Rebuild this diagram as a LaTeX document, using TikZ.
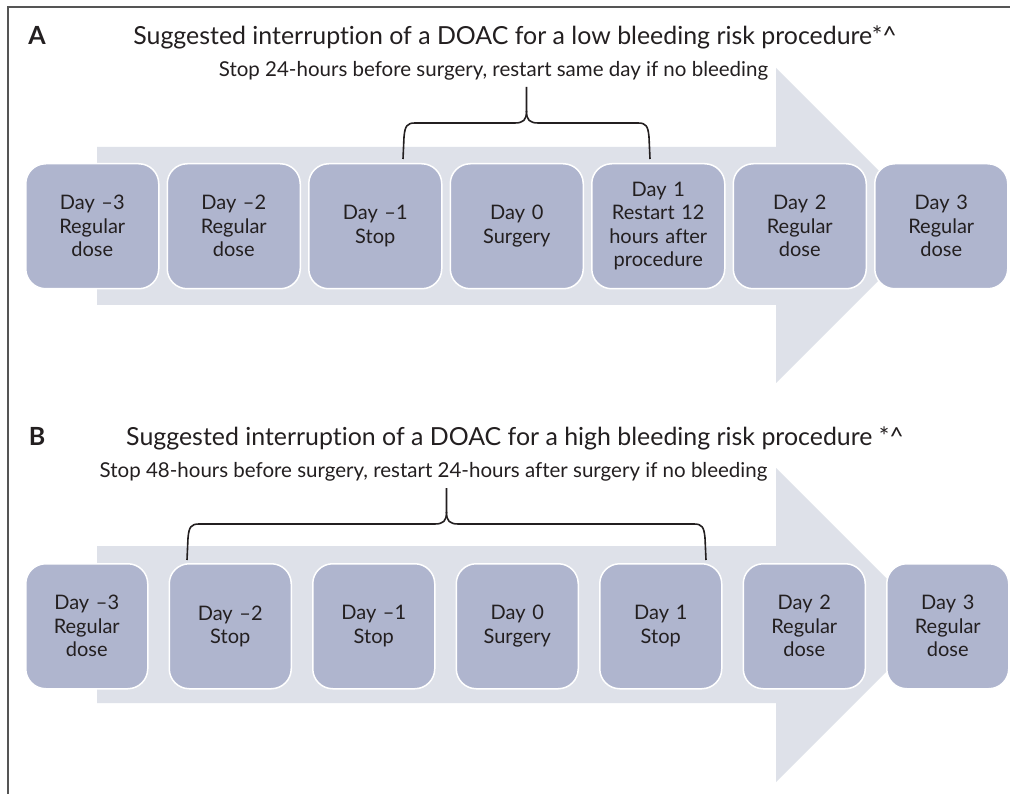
\documentclass[tikz,border=0pt]{standalone}
\usepackage{fontspec}
\setmainfont{Lato}[Ligatures={CommonOff,ContextualOff}]
\usetikzlibrary{calc}
\definecolor{boxfill}{RGB}{175,181,206}
\definecolor{arrowfill}{RGB}{222,225,233}
\definecolor{inkcol}{RGB}{35,31,32}
\definecolor{framecol}{RGB}{85,85,85}
\tikzset{
  daybox/.style={draw=white, line width=1.5pt, fill=boxfill, rounded corners=20pt,
    minimum height=125pt, inner sep=2pt, align=center, text=inkcol,
    font=\fontsize{20}{23.5}\selectfont, anchor=north west},
  dayboxA/.style={daybox, minimum width=133pt, text width=129pt},
  dayboxB/.style={daybox, minimum width=122pt, text width=118pt},
  titletext/.style={anchor=base, text=inkcol, font=\fontsize{24.9}{28}\selectfont, inner sep=0pt},
  subtext/.style={anchor=base, text=inkcol, font=\fontsize{20.5}{23}\selectfont, inner sep=0pt},
  panellabel/.style={anchor=base, text=inkcol, font=\fontsize{25}{28}\selectfont\bfseries, inner sep=0pt},
  bracepen/.style={draw=inkcol, line width=1.6pt},
  bigarrow/.style={fill=arrowfill},
  framepen/.style={draw=framecol, line width=1.6pt}
}
\newcommand{\mybracedraw}[5]{%
  \pgfmathsetmacro\xm{(#1+#2)/2}
  \draw[bracepen] (#1,#4) -- (#1+1,#3+14) .. controls (#1+2,#3+3) and (#1+4,#3) .. (#1+12,#3) -- (\xm-12,#3) .. controls (\xm-3,#3) and (\xm,#3-3) .. (\xm,#3-12) -- (\xm,#5);
  \draw[bracepen] (#2,#4) -- (#2-1,#3+14) .. controls (#2-2,#3+3) and (#2-4,#3) .. (#2-12,#3) -- (\xm+12,#3) .. controls (\xm+3,#3) and (\xm,#3-3) .. (\xm,#3-12);
}
\begin{document}
\begin{tikzpicture}[x=1pt, y=-1pt]
\useasboundingbox (0,0) rectangle (1010,794);
\fill[white] (0,0) rectangle (1010,794);
% frame
\draw[framepen] (1010,7) -- (8,7) -- (8,794);

% ---------------- Panel A ----------------
\node[panellabel] (labA) at (37,45) {A};
\node[titletext] (titA) at (515,45) {Suggested interruption of a DOAC for a low bleeding risk procedure*\^{}};
\node[subtext] (subA) at (493.5,77) {Stop 24-hours before surgery, restart same day if no bleeding};
\fill[bigarrow] (97,147) -- (776,147) -- (776,68) -- (933.5,225.5) -- (776,383) -- (776,305) -- (97,305) -- cycle;
\node[dayboxA] (a1) at (25,163)    {Day –3\\Regular\\dose};
\node[dayboxA] (a2) at (166.5,163) {Day –2\\Regular\\dose};
\node[dayboxA] (a3) at (308,163)   {Day –1\\Stop};
\node[dayboxA] (a4) at (449.5,163) {Day 0\\Surgery};
\node[dayboxA] (a5) at (591,163)   {Day 1\\Restart 12\\hours after\\procedure};
\node[dayboxA] (a6) at (732.5,163) {Day 2\\Regular\\dose};
\node[dayboxA] (a7) at (874,163)   {Day 3\\Regular\\dose};
\mybracedraw{403}{650}{123}{159}{87}

% ---------------- Panel B ----------------
\node[panellabel] (labB) at (37,445) {B};
\node[titletext] (titB) at (515,445) {Suggested interruption of a DOAC for a high bleeding risk procedure *\^{}};
\node[subtext] (subB) at (433.5,477) {Stop 48-hours before surgery, restart 24-hours after surgery if no bleeding};
\fill[bigarrow] (97,546) -- (776,546) -- (776,468) -- (933,625) -- (776,782) -- (776,703) -- (97,703) -- cycle;
\node[dayboxB] (b1) at (25,563)    {Day –3\\Regular\\dose};
\node[dayboxB] (b2) at (168.5,563) {Day –2\\Stop};
\node[dayboxB] (b3) at (312,563)   {Day –1\\Stop};
\node[dayboxB] (b4) at (455.5,563) {Day 0\\Surgery};
\node[dayboxB] (b5) at (599,563)   {Day 1\\Stop};
\node[dayboxB] (b6) at (742.5,563) {Day 2\\Regular\\dose};
\node[dayboxB] (b7) at (886,563)   {Day 3\\Regular\\dose};
\mybracedraw{187}{706}{524}{560}{488}
\end{tikzpicture}
\end{document}
